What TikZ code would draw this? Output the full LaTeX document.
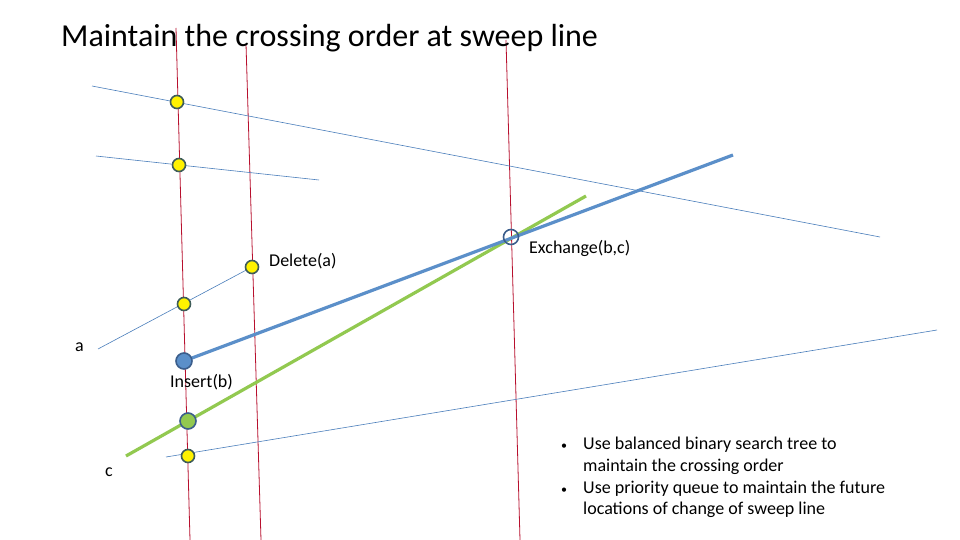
\documentclass[tikz,border=0pt]{standalone}
\usepackage{fontspec}
\setmainfont{Carlito}
\definecolor{sweepred}{HTML}{B8102E}
\definecolor{thinblue}{HTML}{4A7EBB}
\definecolor{thickblue}{HTML}{5B8FC9}
\definecolor{thickgreen}{HTML}{92C950}
\definecolor{dotedge}{HTML}{3E5C58}
\definecolor{bdotedge}{HTML}{3B5E8C}
\begin{document}
\begin{tikzpicture}[x=1pt,y=-1pt,
  sweep/.style={draw=sweepred, line width=0.8pt},
  seg/.style={draw=thinblue, line width=0.6pt},
  segb/.style={draw=thickblue, line width=3.2pt},
  segc/.style={draw=thickgreen, line width=3.2pt},
  ydot/.style={circle, fill=yellow, draw=dotedge, line width=1.6pt, minimum size=13pt, inner sep=0pt},
  bdot/.style={circle, fill=thickblue, draw=bdotedge, line width=1.6pt, minimum size=16pt, inner sep=0pt},
  gdot/.style={circle, fill=thickgreen, draw=bdotedge, line width=1.6pt, minimum size=16pt, inner sep=0pt},
  odot/.style={circle, fill=none, draw=bdotedge, line width=1.6pt, minimum size=15pt, inner sep=0pt},
  lbl/.style={font=\fontsize{18}{21}\selectfont, inner sep=0pt, anchor=west},
  bul/.style={font=\fontsize{18}{21.7}\selectfont, inner sep=0pt, anchor=north west, align=left}
]
\useasboundingbox (0,0) rectangle (960,540);
\fill[white] (0,0) rectangle (960,540);
% sweep lines
\coordinate (s1t) at (176,28); \coordinate (s1b) at (190,540);
\coordinate (s2t) at (246,44); \coordinate (s2b) at (261,540);
\coordinate (s3t) at (506,40); \coordinate (s3b) at (520,540);
\draw[sweep] (s1t) -- (s1b);
\draw[sweep] (s2t) -- (s2b);
\draw[sweep] (s3t) -- (s3b);
% title
\node[font=\fontsize{32}{36}\selectfont, anchor=west, inner sep=0pt] (title) at (61,38) {Maintain the crossing order at sweep line};
% segment end points
\coordinate (A1) at (92,86); \coordinate (A2) at (880,237);
\coordinate (B1) at (96,156); \coordinate (B2) at (319,180);
\coordinate (a1) at (98,349);
\coordinate (c1) at (166,457); \coordinate (c2) at (937,330);
\coordinate (b2) at (733,155);
\coordinate (g1) at (126,456); \coordinate (g2) at (586,196);
% dot positions
\coordinate (p1) at (177,102);
\coordinate (p2) at (179,165);
\coordinate (pd) at (252,267);
\coordinate (p3) at (184,304);
\coordinate (p5) at (188,456);
\coordinate (pb) at (184,361);
\coordinate (pg) at (188,421);
\coordinate (px) at (511,237);
% segments
\draw[seg] (A1) -- (A2);
\draw[seg] (B1) -- (B2);
\draw[seg] (a1) -- (pd);
\draw[seg] (c1) -- (c2);
\draw[segc] (g1) -- (g2);
\draw[segb] (pb) -- (b2);
% dots
\node[ydot] (d1) at (p1) {};
\node[ydot] (d2) at (p2) {};
\node[ydot] (dd) at (pd) {};
\node[ydot] (d3) at (p3) {};
\node[ydot] (d5) at (p5) {};
\node[bdot] (db) at (pb) {};
\node[gdot] (dg) at (pg) {};
\node[odot] (dx) at (px) {};
% labels
\node[lbl] (ld) at (269,261) {Delete(a)};
\node[lbl] (lx) at (529,248) {Exchange(b,c)};
\node[lbl] (la) at (75,347) {a};
\node[lbl] (li) at (170,382) {Insert(b)};
\node[lbl] (lc) at (105,472) {c};
\node[bul] (list) at (559,437) {%
\makebox[24pt][l]{\hspace*{2pt}\fontsize{12}{12}\selectfont\textbullet}Use balanced binary search tree to\\
\hspace*{24pt}maintain the crossing order\\
\makebox[24pt][l]{\hspace*{2pt}\fontsize{12}{12}\selectfont\textbullet}Use priority queue to maintain the future\\
\hspace*{24pt}locations of change of sweep line};
\end{tikzpicture}
\end{document}
